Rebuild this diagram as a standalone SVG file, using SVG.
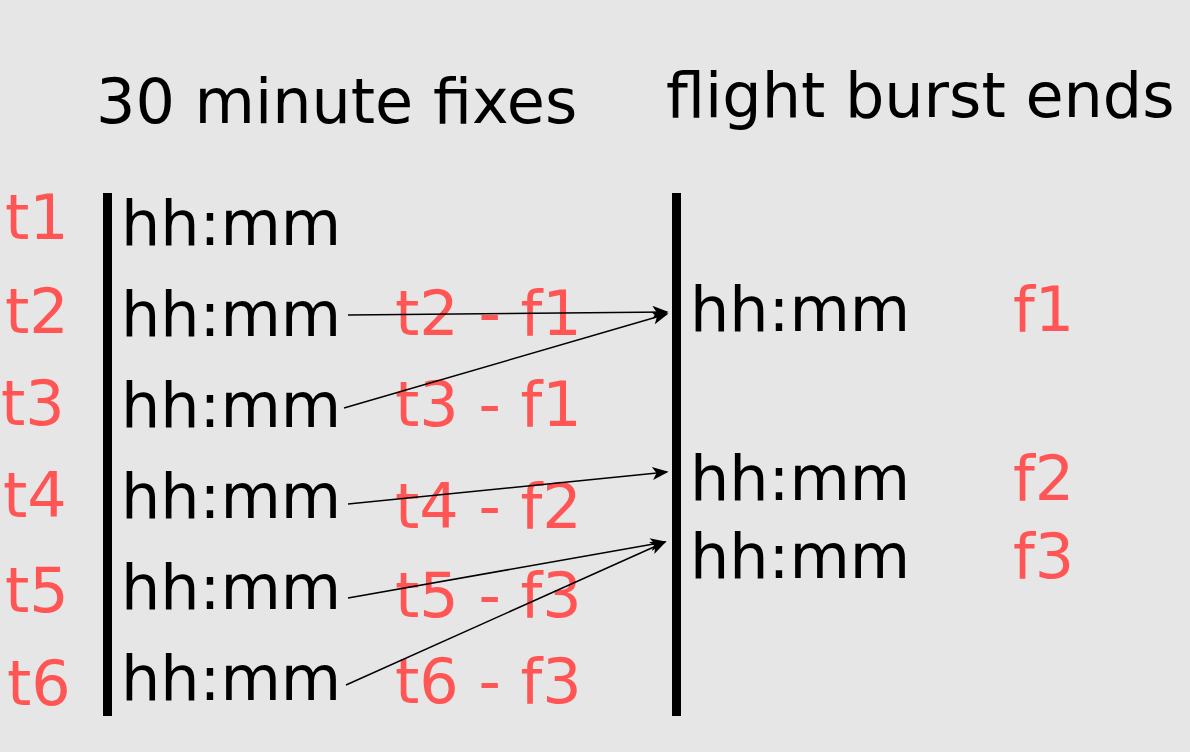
<svg xmlns="http://www.w3.org/2000/svg" width="1190" height="752" viewBox="0 0 1190 752">
<style>
text{font-family:"DejaVu Sans",sans-serif;font-size:62px}
.k{fill:#000}
.r{fill:#ff5555}
.bar{fill:#000}
.c{stroke:#000;stroke-width:1.5;fill:none;marker-end:url(#ah)}
</style>
<defs>
<marker id="ah" viewBox="0 0 10 8" refX="9" refY="4" markerWidth="17" markerHeight="13" markerUnits="userSpaceOnUse" orient="auto">
<path d="M0,0 L10,4 L0,8 L2.5,4 Z" fill="#000"/>
</marker>
</defs>
<rect width="1190" height="752" fill="#e6e6e6"/>
<g id="titles">
<text class="k" x="96" y="123">30 minute fixes</text>
<text class="k" x="666" y="117">flight burst ends</text>
</g>
<g id="bars">
<rect class="bar" x="103" y="193" width="9" height="523"/>
<rect class="bar" x="672" y="193" width="9" height="523"/>
</g>
<g id="fixes">
<g id="fix1"><text class="r" x="5" y="239">t1</text><text class="k" x="121" y="245">hh:mm</text></g>
<g id="fix2"><text class="r" x="5" y="333">t2</text><text class="k" x="121" y="336">hh:mm</text></g>
<g id="fix3"><text class="r" x="1" y="425">t3</text><text class="k" x="121" y="427">hh:mm</text></g>
<g id="fix4"><text class="r" x="3" y="517">t4</text><text class="k" x="121" y="518">hh:mm</text></g>
<g id="fix5"><text class="r" x="5" y="612">t5</text><text class="k" x="121" y="609">hh:mm</text></g>
<g id="fix6"><text class="r" x="7" y="705">t6</text><text class="k" x="121" y="700">hh:mm</text></g>
</g>
<g id="ends">
<g id="end1"><text class="k" x="690" y="331">hh:mm</text><text class="r" x="1013" y="331">f1</text></g>
<g id="end2"><text class="k" x="690" y="500">hh:mm</text><text class="r" x="1013" y="500">f2</text></g>
<g id="end3"><text class="k" x="690" y="578">hh:mm</text><text class="r" x="1013" y="578">f3</text></g>
</g>
<g id="pairs">
<text class="r" x="395" y="335">t2 - f1</text>
<text class="r" x="395" y="426">t3 - f1</text>
<text class="r" x="395" y="528">t4 - f2</text>
<text class="r" x="395" y="617">t5 - f3</text>
<text class="r" x="395" y="703">t6 - f3</text>
</g>
<g id="connectors">
<line class="c" x1="348" y1="315" x2="667" y2="312"/>
<line class="c" x1="344" y1="408" x2="667" y2="314"/>
<line class="c" x1="348" y1="504" x2="667" y2="472"/>
<line class="c" x1="348" y1="598" x2="665" y2="542"/>
<line class="c" x1="346" y1="685" x2="665" y2="542"/>
</g>
</svg>
